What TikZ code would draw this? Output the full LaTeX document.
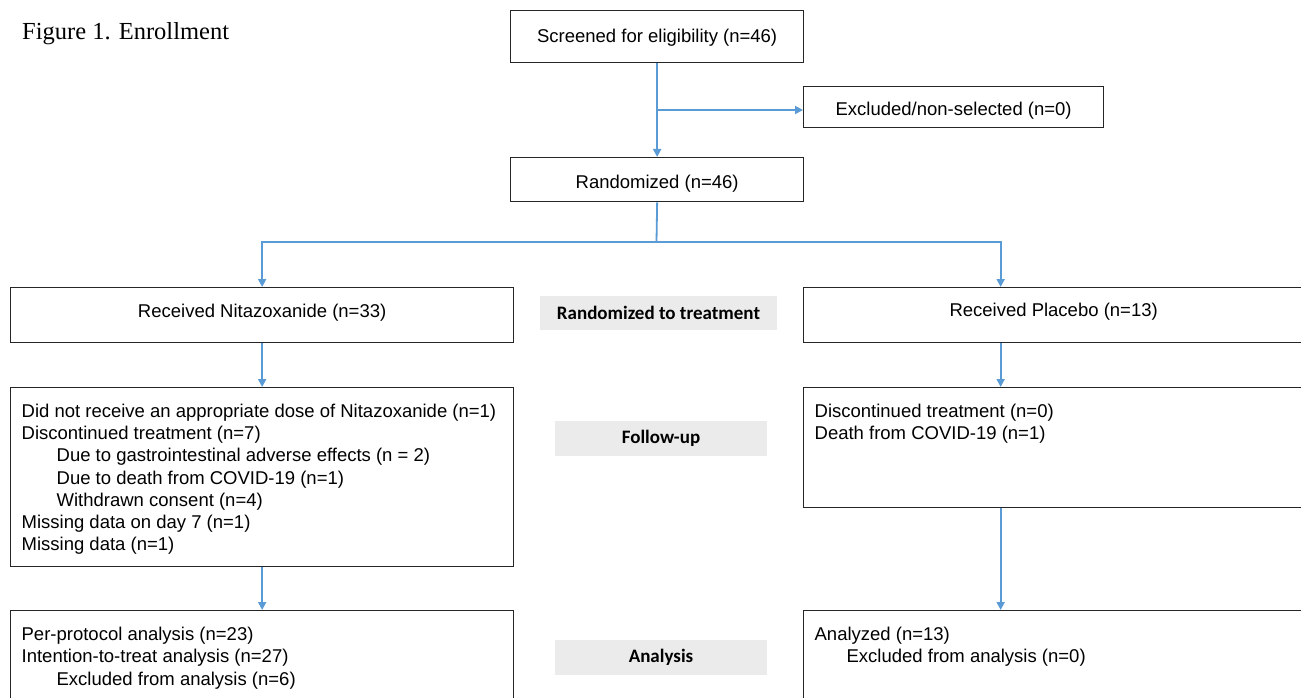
\documentclass[tikz,border=0pt]{standalone}
\usepackage{fontspec}
\setmainfont{Liberation Sans}
\newfontfamily\titlefont{Liberation Serif}
\newfontfamily\calfont{Carlito}
\usetikzlibrary{arrows.meta}
\definecolor{arrblue}{HTML}{5B9BD5}
\definecolor{lblgrey}{HTML}{EBEBEB}
\newcommand\indl{\hspace*{35pt}}
\newcommand\bx[4]{\parbox[c][#2][t]{#1}{\rule{0pt}{#3}#4}}
\begin{document}
\begin{tikzpicture}[x=1pt,y=-1pt,
  box/.style={draw=black!85, line width=1.3pt, inner sep=0pt, anchor=north west,
    font=\fontsize{18.5}{22.3}\selectfont},
  lbl/.style={fill=lblgrey, inner sep=0pt, font=\calfont\bfseries\fontsize{19}{22}\selectfont},
  arr/.style={draw=arrblue, line width=1.8pt, -{Triangle[length=8pt,width=8pt]}},
  ln/.style={draw=arrblue, line width=1.8pt}]
\useasboundingbox (0,0) rectangle (1301,698);
\node[anchor=base west, inner sep=0pt, font=\titlefont\fontsize{24.5}{28}\selectfont] (title) at (22,40) {Figure 1. Enrollment};
% top boxes
\node[box] (scr) at (510,10) {\bx{293pt}{52pt}{32pt}{\centering Screened for eligibility (n=46)}};
\node[box] (excl) at (803,86) {\bx{300pt}{41pt}{29pt}{\centering Excluded/non-selected (n=0)}};
\node[box] (rand) at (510,157) {\bx{293pt}{44pt}{31pt}{\centering Randomized (n=46)}};
% arms
\node[box] (nit) at (10,287) {\bx{503pt}{55pt}{30pt}{\centering Received Nitazoxanide (n=33)}};
\node[box] (plac) at (803,287) {\bx{500pt}{55pt}{29pt}{\centering Received Placebo (n=13)}};
% follow-up
\node[box] (nfu) at (10,387) {\bx{503pt}{179pt}{29.5pt}{\leftskip=11pt
  Did not receive an appropriate dose of Nitazoxanide (n=1)\par
  Discontinued treatment (n=7)\par
  \indl Due to gastrointestinal adverse effects (n = 2)\par
  \indl Due to death from COVID-19 (n=1)\par
  \indl Withdrawn consent (n=4)\par
  Missing data on day 7 (n=1)\par
  Missing data (n=1)}};
\node[box] (pfu) at (803,387) {\bx{500pt}{120pt}{29.5pt}{\leftskip=11pt
  Discontinued treatment (n=0)\par
  Death from COVID-19 (n=1)}};
% analysis
\node[box] (nan) at (10,610) {\bx{503pt}{100pt}{30pt}{\leftskip=11pt
  Per-protocol analysis (n=23)\par
  Intention-to-treat analysis (n=27)\par
  \indl Excluded from analysis (n=6)}};
\node[box] (pan) at (803,610) {\bx{500pt}{100pt}{30pt}{\leftskip=11pt
  Analyzed (n=13)\par
  \hspace*{32pt}Excluded from analysis (n=0)}};
% stage labels
\node[lbl, minimum width=237pt, minimum height=34pt] (l1) at (658.5,313) {Randomized to treatment};
\node[lbl, minimum width=212pt, minimum height=35pt] (l2) at (661,438.5) {Follow-up};
\node[lbl, minimum width=212pt, minimum height=35pt] (l3) at (661,657.5) {Analysis};
% connectors
\coordinate (br) at (656.5,110);
\coordinate (split) at (656.5,242);
\draw[arr] (scr.south) -- (rand.north);
\draw[arr] (br) -- (br -| excl.west);
\draw[ln] (rand.south) -- (split);
\draw[arr] (split) -| (nit.north);
\draw[arr] (split) -| ([xshift=-53pt]plac.north);
\draw[arr] (nit.south) -- (nfu.north);
\draw[arr] ([xshift=-53pt]plac.south) -- ([xshift=-53pt]pfu.north);
\draw[arr] (nfu.south) -- (nan.north);
\draw[arr] ([xshift=-53pt]pfu.south) -- ([xshift=-53pt]pan.north);
\end{tikzpicture}
\end{document}
